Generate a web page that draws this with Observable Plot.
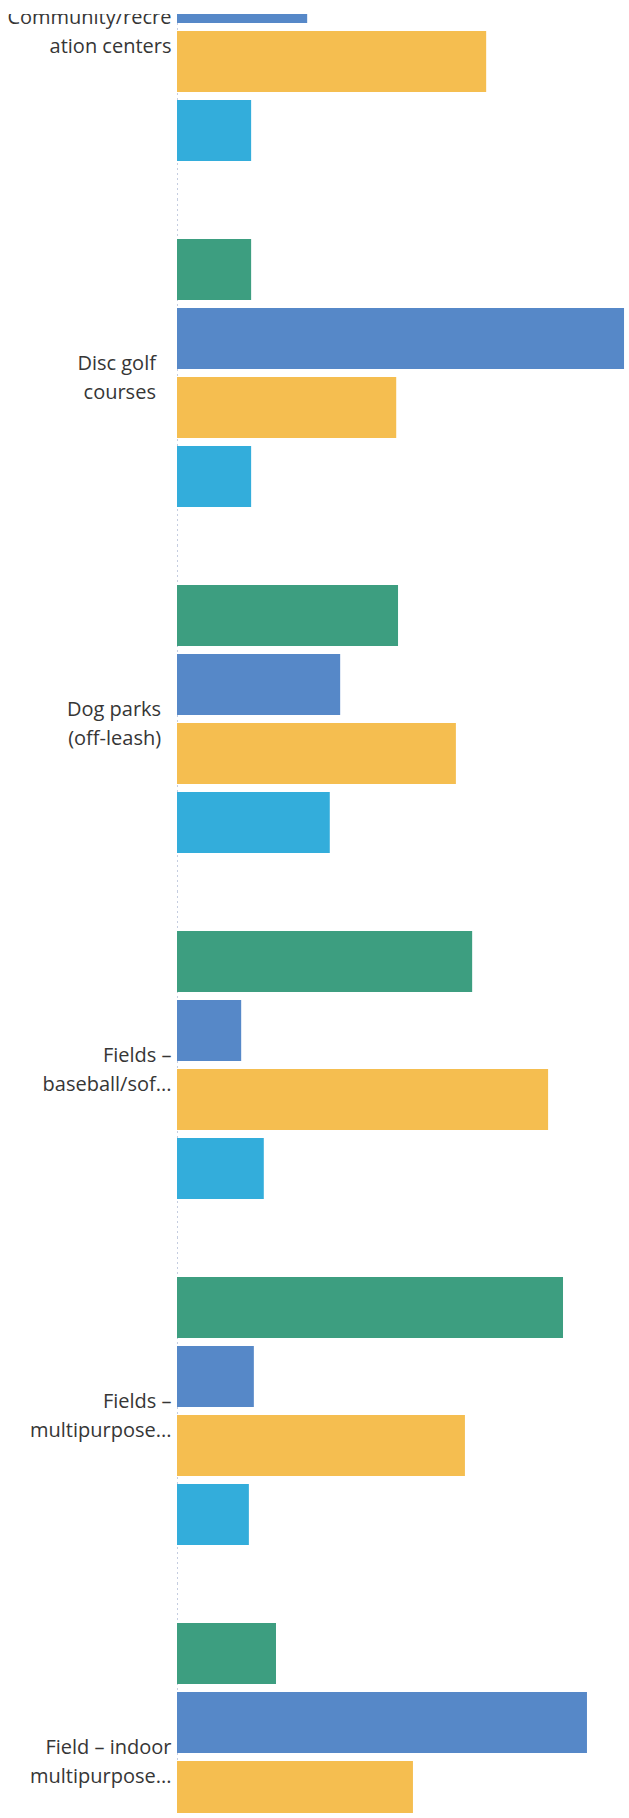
<!DOCTYPE html>
<html>
<head>
<meta charset="utf-8">
<script src="https://cdn.jsdelivr.net/npm/d3@7"></script>
<script src="https://cdn.jsdelivr.net/npm/@observablehq/plot@0.6"></script>
<style>
  html, body { margin: 0; padding: 0; background: #fff; overflow: hidden; }
  #clip { position: absolute; left: 0; top: 14px; width: 629px; height: 1799px; overflow: hidden; background: #fff; }
  #chart { position: absolute; left: 0; top: -131px; }
</style>
</head>
<body>
<div id="clip"><div id="chart"></div></div>
<script>
// Categories (y groups) and their wrapped tick labels as shown
const categories = [
  "Community/recreation centers",
  "Disc golf courses",
  "Dog parks (off-leash)",
  "Fields – baseball/softball",
  "Fields – multipurpose",
  "Field – indoor multipurpose"
];
const tickLabels = [
  "Community/recre\nation centers",
  "Disc golf\u00a0\u00a0\u00a0\ncourses\u00a0\u00a0\u00a0",
  "Dog parks\u00a0\u00a0\n(off-leash)\u00a0\u00a0",
  "Fields –\nbaseball/sof...",
  "Fields –\nmultipurpose...",
  "Field – indoor\nmultipurpose..."
];

// Series (bar order within each group, top to bottom)
const seriesNames = ["Series 1", "Series 2", "Series 3", "Series 4"];
const seriesColors = ["#3d9e80", "#5688c8", "#f5be50", "#33addb"];

// Values (estimated, % scale); null = outside the visible crop
const series1 = [null, 16.4, 48.9, 65.3, 85.4, 21.9];
const series2 = [28.8, 98.9, 36.1, 14.2, 17.0, 90.7];
const series3 = [68.4, 48.5, 61.7, 82.1, 63.7, 52.2];
const series4 = [16.4, 16.4, 33.8, 19.2, 15.9, null];

const seriesValues = [series1, series2, series3, series4];
const labelOf = new Map(categories.map((c, i) => [c, tickLabels[i]]));

const data = categories.flatMap((c, i) =>
  seriesValues.map((arr, j) => ({ category: c, series: seriesNames[j], value: arr[i] }))
).filter(d => d.value != null);

const chart = Plot.plot({
  width: 629,
  height: 2019,
  marginLeft: 177,
  marginRight: 0,
  marginTop: 0,
  marginBottom: 0,
  style: { fontFamily: "'Open Sans', sans-serif", background: "#fff" },
  x: { domain: [0, 100], axis: null },
  y: { domain: seriesNames, padding: 0.11, axis: null },
  fy: { domain: categories, padding: 0.1732, axis: null },
  color: { domain: seriesNames, range: seriesColors },
  marks: [
    Plot.ruleX([0], { stroke: "#c5cde0", strokeDasharray: "2,3", insetTop: -31, insetBottom: -31 }),
    Plot.barX(data, { x: "value", y: "series", fy: "category", fill: "series" }),
    Plot.axisFy({
      anchor: "left",
      tickFormat: d => labelOf.get(d),
      tickSize: 0,
      tickPadding: 6,
      fontSize: 20,
      lineHeight: 1.45,
      label: null,
      color: "#363636",
      dy: 2
    })
  ]
});
document.getElementById("chart").append(chart);
</script>
</body>
</html>
